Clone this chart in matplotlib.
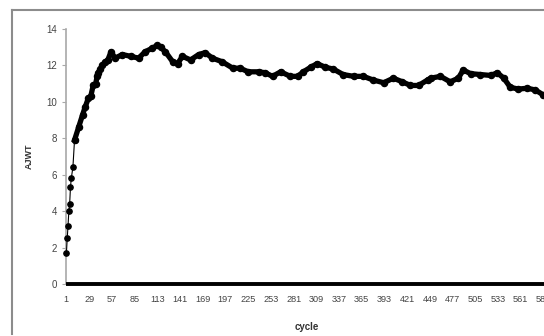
import numpy as np
import matplotlib.pyplot as plt
from matplotlib.lines import Line2D

plt.rcParams['font.family'] = ['Liberation Sans', 'DejaVu Sans']

# AJWT per cycle (read points along the curve)
cycle = [1, 2, 3, 4, 5, 6, 7, 9, 11, 16, 21, 24, 28, 31, 34, 37, 39, 40, 43, 45,
         49, 52, 56, 61, 70, 80, 90, 98, 107, 113, 117, 123, 132, 138, 144, 154,
         164, 172, 181, 193, 206, 215, 225, 238, 246, 255, 265, 277, 286, 293,
         302, 310, 320, 330, 342, 355, 367, 379, 392, 404, 415, 425, 435, 446,
         450, 462, 474, 484, 490, 499, 511, 524, 532, 540, 548, 558, 569, 579,
         588, 594]
ajwt = [1.7, 2.5, 3.2, 4.0, 4.4, 5.3, 5.8, 6.4, 7.9, 8.6, 9.3, 9.7, 10.2, 10.3,
        10.9, 11.0, 11.4, 11.6, 11.8, 12.0, 12.2, 12.3, 12.75, 12.4, 12.6, 12.5,
        12.4, 12.75, 12.95, 13.1, 13.0, 12.75, 12.2, 12.1, 12.5, 12.3, 12.6,
        12.7, 12.4, 12.2, 11.85, 11.85, 11.65, 11.65, 11.6, 11.4, 11.65, 11.4,
        11.4, 11.65, 11.9, 12.1, 11.9, 11.8, 11.5, 11.4, 11.4, 11.2, 11.05,
        11.3, 11.1, 10.9, 10.9, 11.2, 11.3, 11.4, 11.1, 11.3, 11.75, 11.55,
        11.5, 11.45, 11.6, 11.3, 10.8, 10.7, 10.75, 10.65, 10.4, 10.3]

n_cycles = 594
baseline = np.zeros(n_cycles)
tick_cycles = list(range(1, 590, 28))

fig = plt.figure(figsize=(5.44, 3.36), dpi=100)
ax = fig.add_axes([66 / 544, 52 / 336, 482 / 544, 255 / 336])

# zero series along the bottom
ax.plot(np.arange(1, n_cycles + 1), baseline, color='black', lw=2.8,
        solid_capstyle='butt', clip_on=False, zorder=3)

# early cycles: markers joined by a thin line, then a dense run of markers
k = cycle.index(11) + 1
ax.plot(cycle[:k], ajwt[:k], '-o', color='black', lw=0.8, ms=3.8,
        clip_on=False, zorder=4)
ax.plot(cycle[k - 1:], ajwt[k - 1:], '-o', color='black', lw=3.8, ms=4.4,
        clip_on=False, zorder=4)

ax.set_xlim(0.5, n_cycles + 0.5)
ax.set_ylim(0, 14)
ax.set_yticks(range(0, 15, 2))
ax.set_xticks(tick_cycles)
ax.set_xticklabels([str(c) for c in tick_cycles])

for s in ['top', 'right', 'bottom']:
    ax.spines[s].set_visible(False)
ax.spines['left'].set_color('#a8a8a8')
ax.spines['left'].set_linewidth(1.2)

ax.tick_params(axis='y', length=3, width=0.8, color='#a8a8a8', pad=3.5,
               labelsize=7, labelcolor='#444444')
ax.tick_params(axis='x', length=0, pad=8, labelsize=6.6, labelcolor='#444444')

ax.set_xlabel('cycle', fontsize=7, fontweight='bold', color='#333333')
ax.xaxis.set_label_coords(241 / 482, -38 / 255)
ax.set_ylabel('AJWT', fontsize=6.5, fontweight='bold', color='#333333')
ax.yaxis.set_label_coords(-32 / 482, 0.5)

# outer chart frame
fig.add_artist(Line2D([12 / 544, 12 / 544], [1 - 10 / 336, 1 - 334 / 336],
                      transform=fig.transFigure, color='#8c8c8c', lw=1.5))
fig.add_artist(Line2D([12 / 544, 1], [1 - 10 / 336, 1 - 10 / 336],
                      transform=fig.transFigure, color='#8c8c8c', lw=1.5))

fig.savefig('out.png', dpi=100)
